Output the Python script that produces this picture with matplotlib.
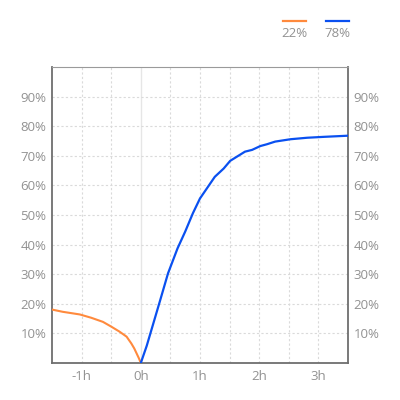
import matplotlib
matplotlib.use("Agg")
import matplotlib.pyplot as plt
from matplotlib.lines import Line2D

# ---------------- Data ----------------
before_hours = [-1.51, -1.32, -1.03, -0.84, -0.64, -0.50, -0.36, -0.24, -0.16,
                -0.11, -0.07, -0.03, 0.0]
before_pct = [18.1, 17.3, 16.4, 15.3, 13.9, 12.3, 10.6, 8.9, 6.6,
              4.9, 3.2, 1.5, 0.0]

after_hours = [0.0, 0.10, 0.32, 0.46, 0.62, 0.75, 0.88, 1.0, 1.25, 1.4, 1.51,
               1.76, 1.88, 2.02, 2.13, 2.27, 2.53, 2.81, 3.09, 3.51]
after_pct = [0.0, 5.8, 20.7, 30.3, 38.7, 44.4, 50.6, 55.6, 62.9, 65.7, 68.3,
             71.4, 72.0, 73.3, 73.9, 74.8, 75.6, 76.1, 76.4, 76.8]

legend_labels = ["22%", "78%"]
x_ticks = [-1, 0, 1, 2, 3]
x_tick_labels = ["-1h", "0h", "1h", "2h", "3h"]
y_ticks = [10, 20, 30, 40, 50, 60, 70, 80, 90]

orange = "#ff8a3d"
blue = "#0a50f0"
text_gray = "#929292"
spine_gray = "#6e6e6e"

plt.rcParams["font.family"] = ["Open Sans", "DejaVu Sans"]

fig = plt.figure(figsize=(4, 4), dpi=100)
ax = fig.add_axes([0.13, 0.0925, 0.74, 0.74])

# grid
for gx in [-1.0, -0.5, 0.5, 1.0, 1.5, 2.0, 2.5, 3.0]:
    ax.axvline(gx, color="#dadada", lw=0.8, ls=(0, (2, 2)), zorder=0)
ax.axvline(0, color="#e6e6e6", lw=1.0, zorder=0)
for gy in y_ticks:
    ax.axhline(gy, color="#dadada", lw=0.8, ls=(0, (2, 2)), zorder=0)

ax.plot(before_hours, before_pct, color=orange, lw=1.5, zorder=3)
ax.plot(after_hours, after_pct, color=blue, lw=1.6, zorder=3)

ax.set_xlim(-1.5, 3.5)
ax.set_ylim(0, 100)
ax.set_xticks(x_ticks)
ax.set_xticklabels(x_tick_labels)
ax.set_yticks(y_ticks)
ax.set_yticklabels([f"{v}%" for v in y_ticks])
ax.tick_params(axis="both", length=0, colors=text_gray, labelsize=9.5)
ax.tick_params(axis="y", labelleft=True, labelright=True, pad=4)
ax.tick_params(axis="x", pad=5)

for side in ["left", "right", "bottom"]:
    ax.spines[side].set_color(spine_gray)
    ax.spines[side].set_linewidth(1.3)
ax.spines["top"].set_color("#9a9a9a")
ax.spines["top"].set_linewidth(0.8)

# legend: short lines with value underneath
for x0, x1, color, label in [(282.5, 306, orange, legend_labels[0]),
                             (325.5, 349, blue, legend_labels[1])]:
    fig.add_artist(Line2D([x0 / 400, x1 / 400], [1 - 21 / 400, 1 - 21 / 400],
                          color=color, lw=1.6, transform=fig.transFigure))
    fig.text((x0 + x1) / 2 / 400, 1 - 33.5 / 400, label, color=text_gray,
             fontsize=9.5, ha="center", va="center")

fig.savefig("out.png", dpi=100, facecolor="white")
